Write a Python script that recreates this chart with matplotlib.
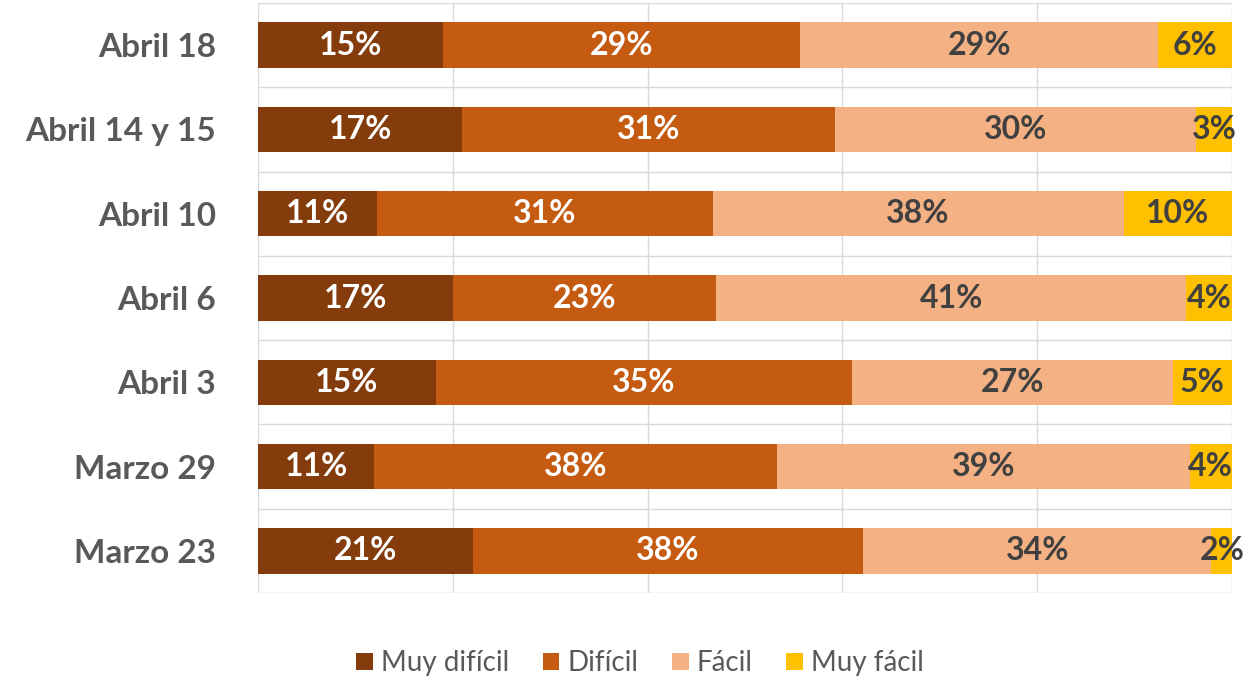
import matplotlib
matplotlib.use("Agg")
import matplotlib.pyplot as plt
from matplotlib.patches import Patch
import numpy as np

plt.rcParams['font.family'] = ['Lato', 'DejaVu Sans']

categories = ["Abril 18", "Abril 14 y 15", "Abril 10", "Abril 6", "Abril 3", "Marzo 29", "Marzo 23"]
series_names = ["Muy difícil", "Difícil", "Fácil", "Muy fácil"]
muy_dificil = [15, 17, 11, 17, 15, 11, 21]
dificil = [29, 31, 31, 23, 35, 38, 38]
facil = [29, 30, 38, 41, 27, 39, 34]
muy_facil = [6, 3, 10, 4, 5, 4, 2]

colors = ["#843C0C", "#C55A11", "#F4B183", "#FFC000"]
label_colors = ["white", "white", "#404040", "#404040"]

data = np.array([muy_dificil, dificil, facil, muy_facil], dtype=float)
totals = data.sum(axis=0)
shares = data / totals * 100  # 100% stacked

fig = plt.figure(figsize=(12.5, 6.81), dpi=100)
ax = fig.add_axes([0.2064, 0.1292, 0.7792, 0.8664])

y = np.arange(len(categories))
left = np.zeros(len(categories))
for i in range(4):
    ax.barh(y, shares[i], left=left, height=0.54, color=colors[i], zorder=2)
    for j in range(len(categories)):
        ax.text(left[j] + shares[i][j] / 2, y[j], f"{int(data[i][j])}%",
                ha="center", va="center", color=label_colors[i],
                fontsize=23, fontweight="bold", zorder=3)
    left += shares[i]

ax.set_xlim(0, 100)
ax.set_ylim(len(categories) - 0.5, -0.5)
ax.set_xticks(np.arange(0, 101, 20))
ax.set_yticks(y)
ax.set_yticklabels(categories, fontsize=24, fontweight="bold", color="#595959")
ax.set_yticks(np.arange(-0.5, len(categories)), minor=True)
ax.tick_params(axis="both", which="both", length=0)
ax.tick_params(axis="y", pad=30)
ax.set_xticklabels([])
ax.grid(axis="x", which="major", color="#D9D9D9", linewidth=1, zorder=0)
ax.grid(axis="y", which="minor", color="#D9D9D9", linewidth=1, zorder=0)
ax.grid(axis="y", which="major", visible=False)
for s in ax.spines.values():
    s.set_visible(False)

handles = [Patch(facecolor=c, edgecolor="none") for c in colors]
fig.legend(handles, series_names, loc="center", bbox_to_anchor=(0.512, 0.026),
           ncol=4, frameon=False, fontsize=20, handlelength=0.6, handleheight=0.6,
           handletextpad=0.3, columnspacing=1.2, labelcolor="#595959")

fig.savefig("out.png", dpi=100)
